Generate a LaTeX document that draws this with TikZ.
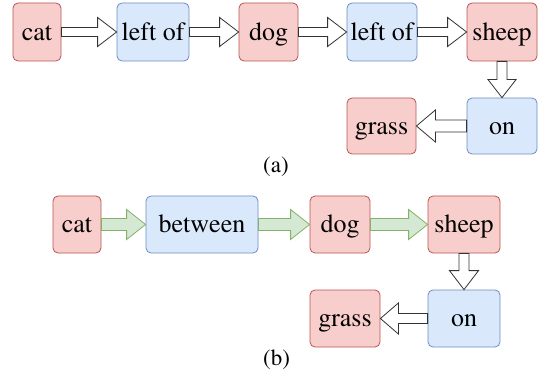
\documentclass[tikz,border=0pt]{standalone}
\usepackage[T1]{fontenc}
\usepackage{times}
\usetikzlibrary{calc}
\definecolor{redfill}{HTML}{F8CECC}
\definecolor{redline}{HTML}{B85450}
\definecolor{bluefill}{HTML}{DAE8FC}
\definecolor{blueline}{HTML}{6C8EBF}
\definecolor{greenfill}{HTML}{D5E8D4}
\definecolor{greenline}{HTML}{82B366}
\definecolor{arrowline}{HTML}{333333}
\tikzset{
  box/.style={rectangle, rounded corners=5pt, line width=0.8pt, inner sep=0pt,
    font=\rmfamily\fontsize{26}{30}\selectfont, text height=21.3pt, text depth=5.2pt},
  objbox/.style={box, fill=redfill, draw=redline},
  relbox/.style={box, fill=bluefill, draw=blueline},
  whitearrow/.style={fill=white, draw=arrowline, line width=0.8pt, line join=miter},
  greenarrow/.style={fill=greenfill, draw=greenline, line width=0.8pt, line join=miter},
  caption/.style={font=\rmfamily\fontsize{23}{27}\selectfont, inner sep=0pt}
}
% block arrow pointing right/left between two nodes:
% #1 style, #2 start point, #3 tip point, #4 shaft half width, #5 head half width, #6 head length
\newcommand\hblock[6]{%
  \draw[#1] let \p1=#2, \p2=#3, \n1={sign(\x2-\x1)} in
    (\x1,\y1+#4) -- (\x2-\n1*#6,\y1+#4) -- (\x2-\n1*#6,\y1+#5) -- (\x2,\y1)
    -- (\x2-\n1*#6,\y1-#5) -- (\x2-\n1*#6,\y1-#4) -- (\x1,\y1-#4) -- cycle;}
% block arrow pointing down between two nodes
\newcommand\vblock[6]{%
  \draw[#1] let \p1=#2, \p2=#3 in
    (\x1+#4,\y1) -- (\x1+#4,\y2+#6) -- (\x1+#5,\y2+#6) -- (\x1,\y2)
    -- (\x1-#5,\y2+#6) -- (\x1-#4,\y2+#6) -- (\x1-#4,\y1) -- cycle;}
\begin{document}
\begin{tikzpicture}[x=1pt, y=-1pt]
\useasboundingbox (0,0) rectangle (538,374);

% ---- (a) ----
\node[objbox, minimum width=48pt, minimum height=58pt] (acat) at (37,32) {cat};
\node[relbox, minimum width=72pt, minimum height=58pt] (aleft1) at (153,32) {left of};
\node[objbox, minimum width=59pt, minimum height=58pt] (adog) at (268.5,32) {dog};
\node[relbox, minimum width=70pt, minimum height=58pt] (aleft2) at (382,32) {left of};
\node[objbox, minimum width=70pt, minimum height=58pt] (asheep) at (502,32) {sheep};
\node[relbox, minimum width=70pt, minimum height=56pt] (aon) at (502,126) {on};
\node[objbox, minimum width=69pt, minimum height=56pt] (agrass) at (381.5,126) {grass};

\hblock{whitearrow}{(acat.east)}{(aleft1.west)}{4.5pt}{14.5pt}{19pt}
\hblock{whitearrow}{(aleft1.east)}{(adog.west)}{4.5pt}{14.5pt}{19pt}
\hblock{whitearrow}{(adog.east)}{(aleft2.west)}{4.5pt}{14.5pt}{19pt}
\hblock{whitearrow}{(aleft2.east)}{(asheep.west)}{4.5pt}{14.5pt}{19pt}
\vblock{whitearrow}{(asheep.south)}{(aon.north)}{5pt}{14pt}{18pt}
\hblock{whitearrow}{(aon.west)}{(agrass.east)}{6pt}{16pt}{19pt}

\node[caption] (capa) at (276,167) {(a)};

% ---- (b) ----
\node[objbox, minimum width=48pt, minimum height=57pt] (bcat) at (77,224.5) {cat};
\node[relbox, minimum width=112pt, minimum height=57pt] (bbetween) at (202,224.5) {between};
\node[objbox, minimum width=60pt, minimum height=57pt] (bdog) at (340,224.5) {dog};
\node[objbox, minimum width=72pt, minimum height=57pt] (bsheep) at (464,224.5) {sheep};
\node[relbox, minimum width=72pt, minimum height=57pt] (bon) at (464,318.5) {on};
\node[objbox, minimum width=70pt, minimum height=57pt] (bgrass) at (345,318.5) {grass};

\hblock{greenarrow}{(bcat.east)}{(bbetween.west)}{6pt}{15pt}{19pt}
\hblock{greenarrow}{(bbetween.east)}{(bdog.west)}{6pt}{15pt}{19pt}
\hblock{greenarrow}{(bdog.east)}{(bsheep.west)}{6pt}{15pt}{19pt}
\vblock{whitearrow}{(bsheep.south)}{(bon.north)}{5pt}{14.5pt}{19pt}
\hblock{whitearrow}{(bon.west)}{(bgrass.east)}{5pt}{15.5pt}{18pt}

\node[caption] (capb) at (276.5,360) {(b)};
\end{tikzpicture}
\end{document}
